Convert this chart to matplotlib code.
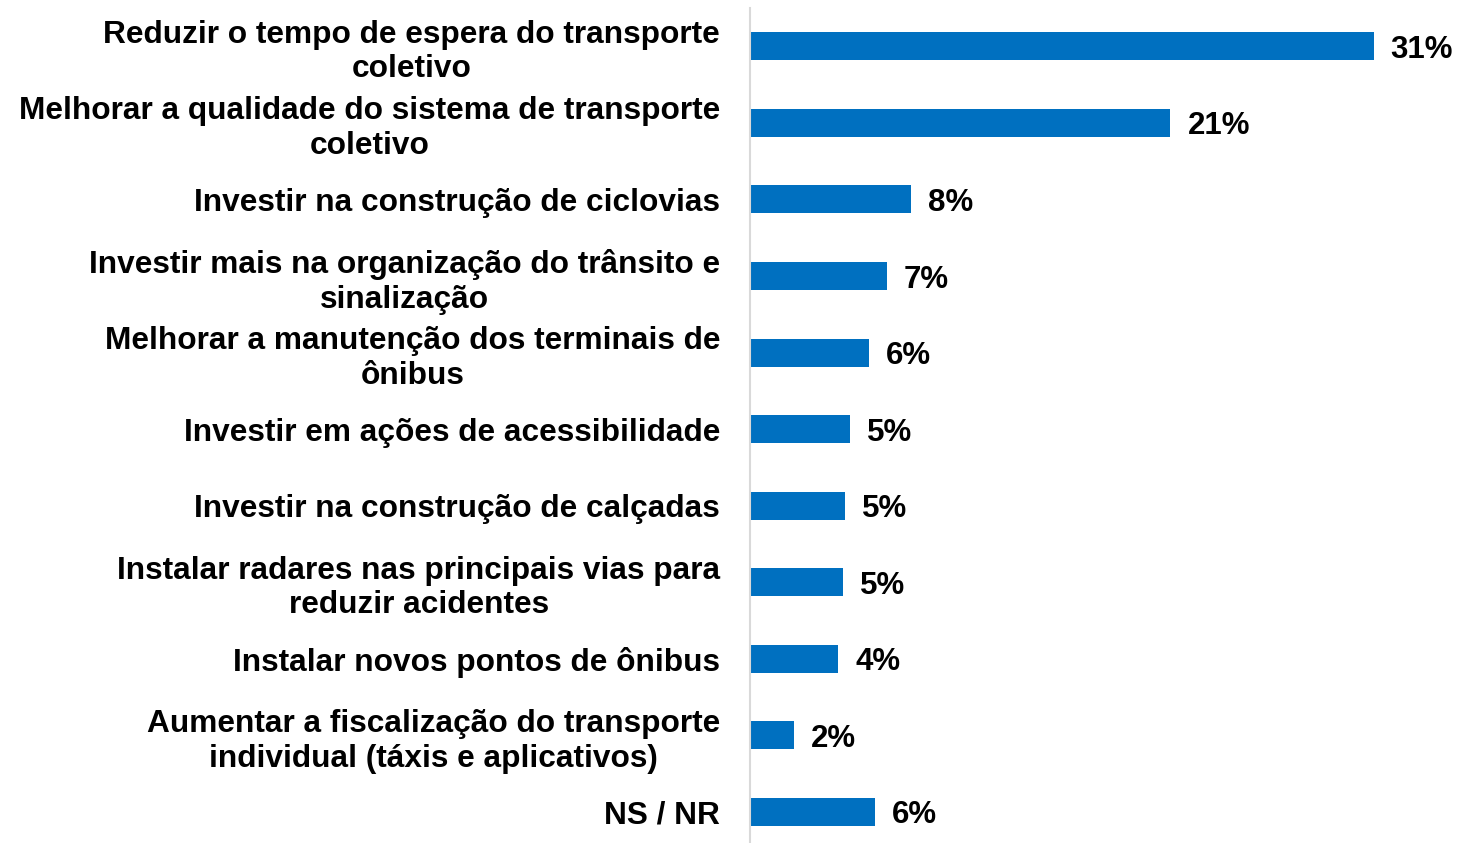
import matplotlib
matplotlib.use("Agg")
import matplotlib.pyplot as plt

plt.rcParams['font.family'] = ['Liberation Sans', 'DejaVu Sans']

# Data
categories = [
    "Reduzir o tempo de espera do transporte\ncoletivo",
    "Melhorar a qualidade do sistema de transporte\ncoletivo",
    "Investir na construção de ciclovias",
    "Investir mais na organização do trânsito e\nsinalização",
    "Melhorar a manutenção dos terminais de\nônibus",
    "Investir em ações de acessibilidade",
    "Investir na construção de calçadas",
    "Instalar radares nas principais vias para\nreduzir acidentes",
    "Instalar novos pontos de ônibus",
    "Aumentar a fiscalização do transporte\nindividual (táxis e aplicativos)",
    "NS / NR",
]
values = [31.0, 20.9, 8.0, 6.8, 5.9, 4.97, 4.7, 4.6, 4.4, 2.2, 6.2]
value_labels = ["31%", "21%", "8%", "7%", "6%", "5%", "5%", "5%", "4%", "2%", "6%"]

bar_color = "#0070C0"

fig = plt.figure(figsize=(14.58, 8.43), dpi=100)
ax = fig.add_axes([0.5144, 0.0, 0.4856, 0.9905])

y = list(range(len(categories)))
ax.barh(y, values, height=0.366, color=bar_color)

for yi, v, lab in zip(y, values, value_labels):
    ax.text(v + 0.85, yi, lab, va="center_baseline", ha="left",
            fontsize=22.5, fontweight="bold", color="black")

ax.set_xlim(0, 35.2)
ax.set_ylim(10.405, -0.5)
ax.set_yticks(y)
ax.set_yticklabels(categories, fontsize=22.8, fontweight="bold")
for t in ax.get_yticklabels():
    t.set_multialignment("center")
ax.tick_params(axis="y", length=0, pad=21.5)
ax.set_xticks([])

for side in ["top", "right", "bottom"]:
    ax.spines[side].set_visible(False)
ax.spines["left"].set_color("#D9D9D9")
ax.spines["left"].set_linewidth(1.5)

fig.savefig("out.png", dpi=100)
